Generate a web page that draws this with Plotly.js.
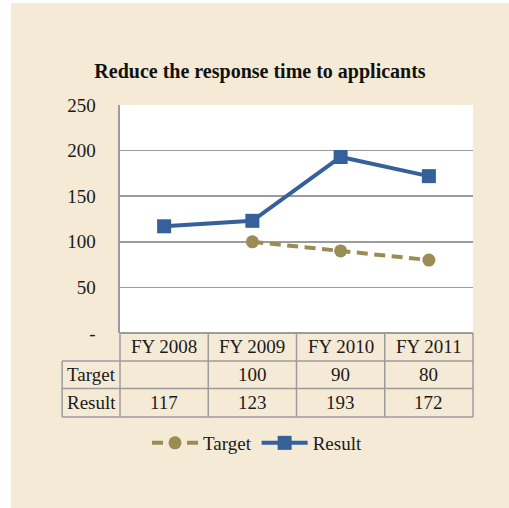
<!DOCTYPE html>
<html>
<head>
<meta charset="utf-8">
<script src="https://cdn.plot.ly/plotly-3.0.1.min.js"></script>
<style>
html,body{margin:0;padding:0;background:#ffffff;}
#chart{position:absolute;left:11px;top:3px;width:498px;height:505px;}
</style>
</head>
<body>
<div id="chart"></div>
<script>
const categories = ["FY 2008", "FY 2009", "FY 2010", "FY 2011"];
const targetValues = [null, 100, 90, 80];
const resultValues = [117, 123, 193, 172];
const seriesNames = ["Target", "Result"];
const yTickValues = [0, 50, 100, 150, 200, 250];
const yTickLabels = ["-", "50", "100", "150", "200", "250"];

const FONT = "'Liberation Serif', 'Times New Roman', serif";
const BG = "#F5EAD6";
const LINE_GREY = "#9C9C9C";
const BLUE = "#35609A";
const OLIVE = "#9A8C52";

const idx = categories.map((c, i) => i);

const traces = [
  {
    x: idx, y: targetValues, name: seriesNames[0], type: "scatter", mode: "lines+markers",
    line: {color: OLIVE, width: 4, dash: "11px,6.5px"},
    marker: {symbol: "circle", size: 13, color: OLIVE},
    connectgaps: false
  },
  {
    x: idx, y: resultValues, name: seriesNames[1], type: "scatter", mode: "lines+markers",
    line: {color: BLUE, width: 4},
    marker: {symbol: "square", size: 14, color: BLUE}
  }
];

// table geometry: paper y for rows, paper x for the label column
const rowY = [0, -0.1228, -0.2434, -0.3684];
const labelColLeft = -0.164;   // paper x of the row-label column's left edge
const shapes = [];
const lineStyle = {color: LINE_GREY, width: 1.5};
shapes.push({type: "line", xref: "paper", yref: "paper", x0: 0, x1: 1, y0: rowY[0], y1: rowY[0], line: {color: "#7f7f7f", width: 1.5}});
for (let r = 1; r < rowY.length; r++) {
  shapes.push({type: "line", xref: "paper", yref: "paper", x0: labelColLeft, x1: 1, y0: rowY[r], y1: rowY[r], line: lineStyle});
}
for (let c = 1; c < categories.length; c++) {
  shapes.push({type: "line", xref: "x", yref: "paper", x0: c - 0.5, x1: c - 0.5, y0: rowY[0], y1: rowY[3], line: lineStyle});
}
shapes.push({type: "line", xref: "paper", yref: "paper", x0: 0, x1: 0, y0: rowY[0], y1: rowY[3], line: lineStyle});
shapes.push({type: "line", xref: "paper", yref: "paper", x0: 1, x1: 1, y0: rowY[0], y1: rowY[3], line: lineStyle});
shapes.push({type: "line", xref: "paper", yref: "paper", x0: labelColLeft, x1: labelColLeft, y0: rowY[1], y1: rowY[3], line: lineStyle});

const annFont = {family: FONT, size: 19, color: "#1a1a1a"};
const annotations = [];
const mid = (a, b) => (a + b) / 2;
categories.forEach((c, i) => {
  annotations.push({xref: "x", yref: "paper", x: i, y: mid(rowY[0], rowY[1]), text: c, showarrow: false, font: annFont, xanchor: "center", yanchor: "middle"});
});
const rows = [targetValues, resultValues];
rows.forEach((vals, r) => {
  const yc = mid(rowY[r + 1], rowY[r + 2]);
  annotations.push({xref: "paper", yref: "paper", x: mid(labelColLeft, 0), y: yc, text: seriesNames[r], showarrow: false, font: annFont, xanchor: "center", yanchor: "middle"});
  vals.forEach((v, i) => {
    if (v !== null) {
      annotations.push({xref: "x", yref: "paper", x: i, y: yc, text: String(v), showarrow: false, font: annFont, xanchor: "center", yanchor: "middle"});
    }
  });
});

const layout = {
  width: 498, height: 505,
  paper_bgcolor: BG, plot_bgcolor: "#ffffff",
  margin: {l: 109, r: 36, t: 102, b: 175, autoexpand: false},
  title: {text: "<b>Reduce the response time to applicants</b>", font: {family: FONT, size: 20, color: "#111"}, x: 0.5, xanchor: "center", xref: "container", y: 0.865, yanchor: "middle", yref: "container"},
  xaxis: {range: [-0.5, 3.5], showticklabels: false, showgrid: false, zeroline: false, showline: false, fixedrange: true, automargin: false},
  yaxis: {range: [0, 250], tickvals: yTickValues, ticktext: yTickLabels, showgrid: true, gridcolor: LINE_GREY, gridwidth: 1.5,
    zeroline: false, showline: true, linecolor: LINE_GREY, linewidth: 2.5, ticks: "", ticklabelstandoff: 18, automargin: false,
    tickfont: {family: FONT, size: 19, color: "#1a1a1a"}, fixedrange: true},
  legend: {orientation: "h", xref: "container", yref: "container", x: 0.494, xanchor: "center", y: 0.1287, yanchor: "middle",
    itemwidth: 46,
    font: {family: FONT, size: 19, color: "#1a1a1a"}, bgcolor: "rgba(0,0,0,0)"},
  showlegend: true,
  shapes: shapes,
  annotations: annotations
};

Plotly.newPlot("chart", traces, layout, {displayModeBar: false, staticPlot: true});
</script>
</body>
</html>
